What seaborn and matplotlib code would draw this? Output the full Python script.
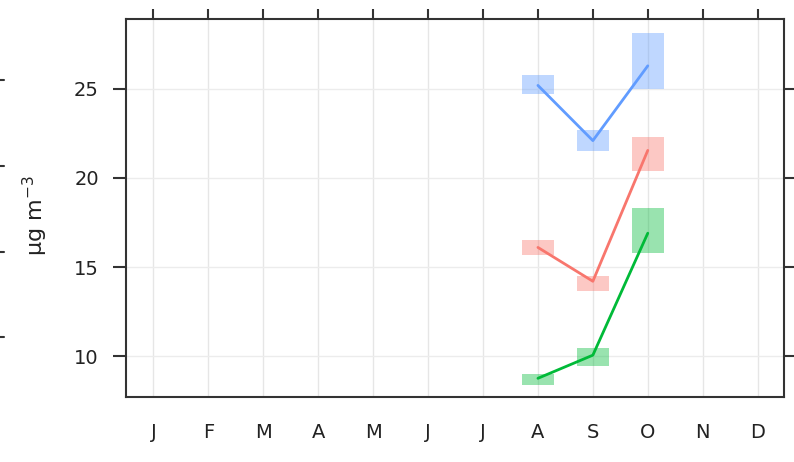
import matplotlib
matplotlib.use("Agg")
import matplotlib.pyplot as plt
import seaborn as sns
import pandas as pd
from matplotlib.lines import Line2D

months = ["J", "F", "M", "A", "M", "J", "J", "A", "S", "O", "N", "D"]
month_num = [8, 9, 10]

blue_mean = [25.2, 22.1, 26.3]
blue_lo = [24.7, 21.5, 25.0]
blue_hi = [25.8, 22.7, 28.15]

red_mean = [16.1, 14.2, 21.55]
red_lo = [15.67, 13.65, 20.4]
red_hi = [16.5, 14.5, 22.3]

green_mean = [8.75, 10.05, 16.9]
green_lo = [8.37, 9.44, 15.8]
green_hi = [9.0, 10.45, 18.3]

series_names = ["blue", "red", "green"]
colors = {"blue": "#619CFF", "red": "#F8766D", "green": "#00BA38"}

yticks = [10, 15, 20, 25]

rows = []
for name, m, lo, hi in [("blue", blue_mean, blue_lo, blue_hi),
                        ("red", red_mean, red_lo, red_hi),
                        ("green", green_mean, green_lo, green_hi)]:
    for x, a, b, c in zip(month_num, m, lo, hi):
        rows.append({"series": name, "month": x, "mean": a, "lo": b, "hi": c})
df = pd.DataFrame(rows)

sns.set_theme(style="white")
plt.rcParams["font.family"] = ["DejaVu Sans"]

fig = plt.figure(figsize=(7.94, 4.62), dpi=100)
ax = fig.add_axes([126 / 794, 1 - 397 / 462, (784 - 126) / 794, (397 - 19) / 462])

# grid
for x in range(1, 13):
    ax.axvline(x, color="#e6e6e6", lw=1.0, zorder=0)
for y in yticks:
    ax.axhline(y, color="#ececec", lw=1.0, zorder=0)

# CI boxes
for name in series_names:
    d = df[df.series == name]
    ax.bar(d["month"], d["hi"] - d["lo"], bottom=d["lo"], width=0.58,
           color=colors[name], alpha=0.4, linewidth=0, zorder=1)

sns.lineplot(data=df, x="month", y="mean", hue="series", palette=colors,
             hue_order=series_names, lw=2.0, ax=ax, legend=False, zorder=2)

ax.set_xlim(0.5, 12.48)
ax.set_ylim(7.7, 28.93)
ax.set_xticks(range(1, 13))
ax.set_xticklabels(months)
ax.set_yticks(yticks)
ax.set_xlabel("")
ax.set_ylabel("μg m$^{-3}$", fontsize=16, color="#222222")
ax.yaxis.set_label_coords(-0.115, 0.48)

ax.tick_params(axis="both", which="both", direction="out", width=1.5,
               color="#333333", labelsize=14, labelcolor="#222222",
               top=True, right=True, labeltop=False, labelright=False)
ax.tick_params(axis="y", which="major", left=True, length=9.5, pad=10)
ax.tick_params(axis="x", which="major", length=10, pad=8.5)
for t in ax.xaxis.get_major_ticks():
    t.tick2line.set_markersize(7.5)
for t in ax.yaxis.get_major_ticks():
    t.tick2line.set_markersize(7.5)

for s in ax.spines.values():
    s.set_color("#333333")
    s.set_linewidth(1.5)
    s.set_visible(True)

# clipped ticks of a neighbouring panel at the left edge
for yp in [80, 166, 252, 337]:
    yy = 1 - yp / 462
    fig.add_artist(Line2D([0, 4 / 794], [yy, yy], color="#333333", lw=1.5))

fig.savefig("out.png", dpi=100)
